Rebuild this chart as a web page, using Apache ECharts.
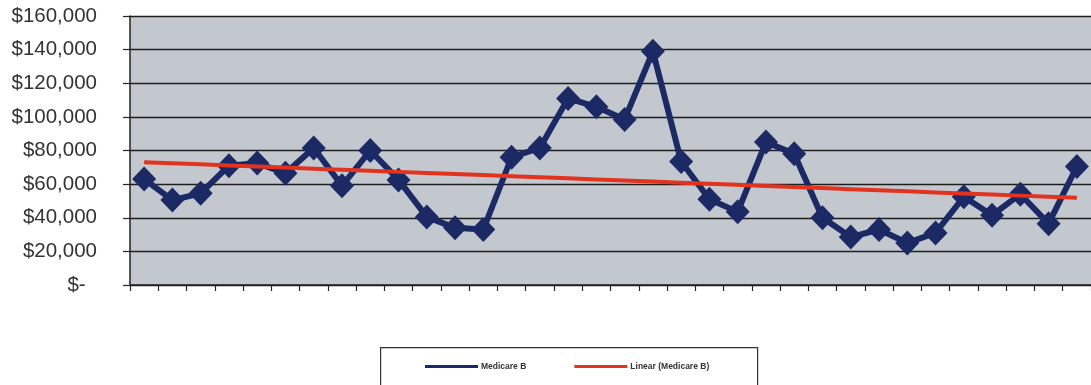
<!DOCTYPE html>
<html>
<head>
<meta charset="utf-8">
<script src="https://cdn.jsdelivr.net/npm/echarts@6/dist/echarts.min.js"></script>
<style>
  html, body { margin: 0; padding: 0; background: #ffffff; }
  #chart { width: 1091px; height: 385px; }
</style>
</head>
<body>
<div id="chart"></div>
<script>
// Periods along the horizontal axis (unlabelled in the chart)
const periods = Array.from({ length: 34 }, (_, i) => String(i + 1));

// Medicare B amounts per period, in dollars
const medicareB = [
  63000, 50500, 54500, 71000, 72500, 66500, 81500, 59000, 80000, 62500,
  40500, 34000, 33000, 76000, 81500, 111000, 106000, 98500, 139000, 73500,
  51000, 43500, 85000, 78000, 40000, 28500, 33000, 25000, 31000, 52500,
  41500, 54000, 36500, 70500
];

// Value axis ticks
const yTicks = [0, 20000, 40000, 60000, 80000, 100000, 120000, 140000, 160000];

const seriesNames = ['Medicare B', 'Linear (Medicare B)'];

// Least-squares linear trend of the Medicare B series
function linearTrend(values) {
  const n = values.length;
  let sx = 0, sy = 0, sxx = 0, sxy = 0;
  values.forEach((v, i) => { sx += i; sy += v; sxx += i * i; sxy += i * v; });
  const slope = (n * sxy - sx * sy) / (n * sxx - sx * sx);
  const intercept = (sy - slope * sx) / n;
  return values.map((_, i) => intercept + slope * i);
}
const trend = linearTrend(medicareB);

// Accounting-style dollar labels, zero shown as a dash
function money(v) {
  if (v === 0) return '$-  ';
  return '$' + v.toLocaleString('en-US');
}

const chart = echarts.init(document.getElementById('chart'), null, { renderer: 'canvas' });

chart.setOption({
  animation: false,
  backgroundColor: '#ffffff',
  grid: {
    left: 130,
    top: 16,
    height: 269,
    width: 969,
    show: true,
    backgroundColor: '#c3c7ce',
    borderWidth: 0
  },
  graphic: [{
    type: 'rect',
    left: 380,
    top: 347,
    shape: { width: 377, height: 50 },
    style: { fill: '#ffffff', stroke: '#333333', lineWidth: 1.2 },
    z: 1
  }],
  legend: {
    data: seriesNames,
    left: 425,
    top: 362,
    padding: 0,
    itemWidth: 53,
    itemHeight: 3,
    itemGap: 48,
    icon: 'rect',
    z: 5,
    textStyle: {
      fontFamily: '"Liberation Sans Narrow", "Liberation Sans", Arial, sans-serif',
      fontSize: 8.5,
      fontWeight: 'bold',
      color: '#333333',
      padding: [0, 0, 0, -2]
    }
  },
  xAxis: {
    type: 'category',
    data: periods,
    boundaryGap: true,
    axisLine: { lineStyle: { color: '#222222', width: 1.5 } },
    axisTick: { show: true, length: 6, alignWithLabel: false, lineStyle: { color: '#222222', width: 1.2 } },
    axisLabel: { show: false },
    splitLine: { show: false }
  },
  yAxis: {
    type: 'value',
    min: 0,
    max: 160000,
    interval: 20000,
    axisLine: { show: true, lineStyle: { color: '#222222', width: 1.5 } },
    axisTick: { show: true, length: 7, lineStyle: { color: '#222222', width: 1.2 } },
    axisLabel: {
      margin: 33,
      fontFamily: '"Liberation Sans", Arial, sans-serif',
      fontSize: 20.5,
      color: '#333333',
      formatter: v => yTicks.includes(v) ? money(v) : ''
    },
    splitLine: { show: true, lineStyle: { color: '#1e1e1e', width: 1.3 } }
  },
  series: [
    {
      name: seriesNames[0],
      type: 'line',
      data: medicareB,
      color: '#1b2a64',
      lineStyle: { width: 6, color: '#1b2a64' },
      symbol: 'diamond',
      symbolSize: [24, 25],
      showSymbol: true,
      showAllSymbol: true,
      itemStyle: { color: '#1b2a64' },
      z: 3
    },
    {
      name: seriesNames[1],
      type: 'line',
      data: trend,
      color: '#e2331f',
      lineStyle: { width: 4, color: '#e2331f' },
      symbol: 'none',
      showSymbol: false,
      z: 4
    }
  ]
});
</script>
</body>
</html>
